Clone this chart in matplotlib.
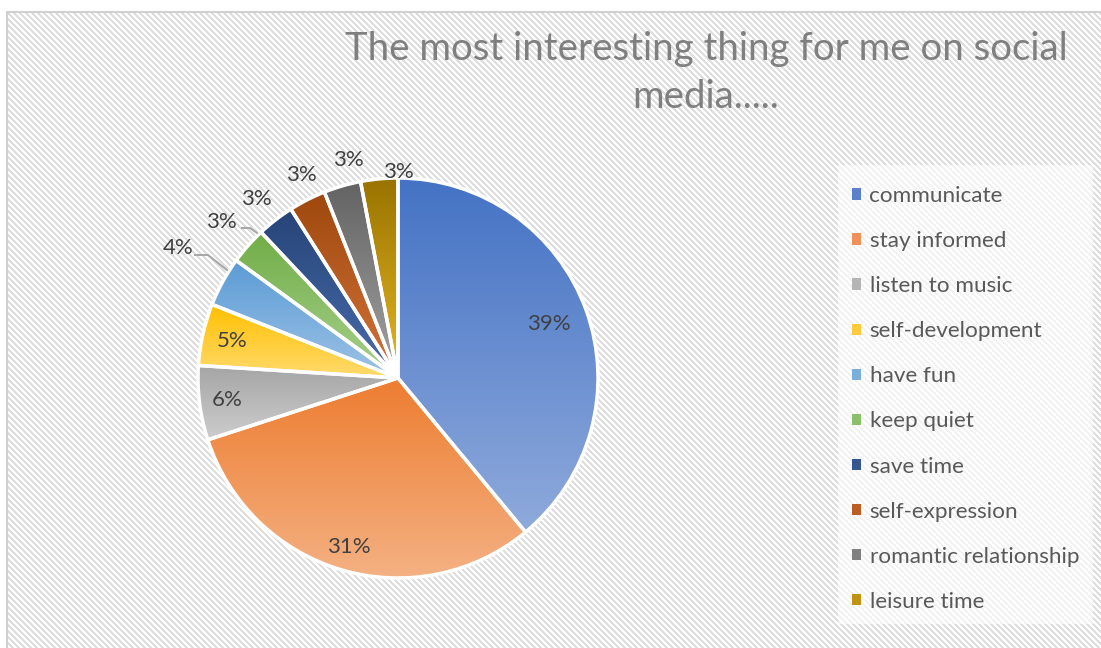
import matplotlib.pyplot as plt
from matplotlib.patches import Patch
from matplotlib.colors import to_rgb
import numpy as np

categories = ["communicate", "stay informed", "listen to music", "self-development",
              "have fun", "keep quiet", "save time", "self-expression",
              "romantic relationship", "leisure time"]
shares = [39, 31, 6, 5, 4, 3, 3, 3, 3, 3]
pct_labels = ["39%", "31%", "6%", "5%", "4%", "3%", "3%", "3%", "3%", "3%"]

# gradient end colours for each slice: (top, bottom)
top_colors = ["#4472C4", "#ED7D31", "#A5A5A5", "#FFC000", "#5B9BD5",
              "#70AD47", "#264478", "#9E480E", "#636363", "#997300"]
bottom_colors = ["#8FAADC", "#F4B183", "#CDCDCD", "#FFDA6E", "#9DC3E6",
                 "#A9D18E", "#4A6DAD", "#D4743A", "#A3A3A3", "#E6B824"]
legend_colors = ["#5B80CC", "#F0915A", "#B5B5B5", "#FFCB3A", "#7AAEDC",
                 "#8CBF6A", "#355690", "#BA5E22", "#808080", "#C09410"]

W, H = 1101, 648
fig = plt.figure(figsize=(W / 100, H / 100), dpi=100)

# striped chart-area background
bg = fig.add_axes([0, 0, 1, 1])
yy, xx = np.mgrid[0:H, 0:W]
stripe = ((xx - yy) % 6) < 3
img = np.ones((H, W, 3))
img[stripe] = to_rgb("#dedede")
# lighter stripes behind the legend
legbox = (xx >= 838) & (xx <= 1092) & (yy >= 165) & (yy <= 623)
img[legbox & stripe] = to_rgb("#f2f2f2")
img[(xx < 7) | (yy < 12)] = 1.0
bg.imshow(img, interpolation="nearest", extent=[0, W, H, 0])
bg.plot([7, 7, W], [H, 12, 12], color="#d0d0d0", lw=1.5)
bg.set_xlim(0, W)
bg.set_ylim(H, 0)
bg.axis("off")

# pie axes, centre at (398, 378) px, radius 200 px
R = 1.05
ax = fig.add_axes([(398 - 210) / W, (H - 378 - 210) / H, 420 / W, 420 / H])
wedges, _ = ax.pie(shares, startangle=90, counterclock=False, radius=1,
                   wedgeprops=dict(edgecolor="white", linewidth=2.5))

for w, c0, c1 in zip(wedges, top_colors, bottom_colors):
    t = np.linspace(np.radians(w.theta1), np.radians(w.theta2), 200)
    ys = np.concatenate([[0], np.sin(t)])
    xs = np.concatenate([[0], np.cos(t)])
    grad = np.linspace(to_rgb(c0), to_rgb(c1), 256)[:, None, :]
    im = ax.imshow(grad, extent=[xs.min(), xs.max(), ys.min(), ys.max()],
                   origin="upper", aspect="auto", zorder=1)
    im.set_clip_path(w)
    w.set_facecolor("none")
    w.set_zorder(2)
ax.set_xlim(-R, R)
ax.set_ylim(-R, R)
ax.axis("off")

# data labels: radius factor and angle nudge (deg) for each slice
label_r = [0.80, 0.88, 0.86, 0.85, 1.278, 1.18, 1.142, 1.125, 1.118, 1.03]
label_nudge = [0, 0, 0, 0, -1.8, 0, 0.6, -1.5, -3.3, -5.4]
for w, txt, r, dn in zip(wedges, pct_labels, label_r, label_nudge):
    a = np.radians((w.theta1 + w.theta2) / 2 + dn)
    ax.text(r * np.cos(a), r * np.sin(a), txt, ha="center", va="center",
            fontsize=16, color="#404040", family="Lato", zorder=4)

# leader lines for the two labels off the rim
ax.plot([-1.015, -0.95, -0.855], [0.615, 0.615, 0.54], color="#a6a6a6", lw=1.4, clip_on=False)
ax.plot([-0.78, -0.74, -0.705], [0.75, 0.75, 0.725], color="#a6a6a6", lw=1.4, clip_on=False)

fig.text(706 / W, 1 - 108 / H, "The most interesting thing for me on social\nmedia.....",
         ha="center", va="baseline", fontsize=27.6, color="#7f7f7f",
         family="Lato", linespacing=1.42)

handles = [Patch(facecolor=c, edgecolor="none") for c in legend_colors]
leg = fig.legend(handles, categories, loc="upper left",
                 bbox_to_anchor=(838 / W, 1 - 172.5 / H), frameon=False,
                 fontsize=16.2, handlelength=0.4, handleheight=0.4,
                 handletextpad=0.4, labelspacing=1.115, borderpad=0.6,
                 borderaxespad=0)
for t in leg.get_texts():
    t.set_color("#595959")
    t.set_family("Lato")

fig.savefig("out.png", dpi=100)
